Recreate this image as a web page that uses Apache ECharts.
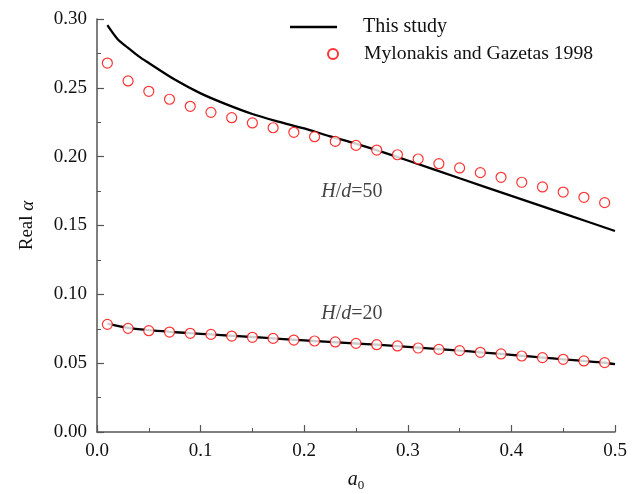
<!DOCTYPE html>
<html>
<head>
<meta charset="utf-8">
<script src="https://cdn.jsdelivr.net/npm/echarts@6/dist/echarts.min.js"></script>
<style>
html,body{margin:0;padding:0;background:#fff;}
#chart{width:634px;height:494px;}
</style>
</head>
<body>
<div id="chart"></div>
<script>
// Mylonakis and Gazetas 1998 points
const xMyl = [0.01,0.03,0.05,0.07,0.09,0.11,0.13,0.15,0.17,0.19,0.21,0.23,0.25,0.27,0.29,0.31,0.33,0.35,0.37,0.39,0.41,0.43,0.45,0.47,0.49];
const myl50 = [0.268,0.255,0.2475,0.2417,0.2366,0.2322,0.2283,0.2245,0.221,0.2177,0.2145,0.2111,0.2082,0.2048,0.2014,0.1983,0.1949,0.1918,0.1884,0.185,0.1814,0.178,0.1743,0.1705,0.1666];
const myl20 = [0.0782,0.0753,0.0736,0.0726,0.0717,0.0709,0.0697,0.0688,0.0680,0.0668,0.0661,0.0654,0.0644,0.0634,0.0625,0.0610,0.0600,0.0591,0.0579,0.0567,0.0552,0.0540,0.0528,0.0516,0.0504];
// This study
const xStudy50 = [0.01,0.02,0.03,0.04,0.05,0.075,0.1,0.125,0.15,0.175,0.2,0.225,0.25,0.275,0.3,0.35,0.4,0.45,0.5];
const study50 = [0.2955,0.2853,0.279,0.273,0.268,0.256,0.246,0.238,0.231,0.2255,0.2205,0.2148,0.2095,0.2035,0.1972,0.1843,0.1715,0.1588,0.146];
const xStudy20 = [0.01,0.03,0.05,0.07,0.09,0.11,0.13,0.15,0.17,0.19,0.21,0.23,0.25,0.27,0.29,0.31,0.33,0.35,0.37,0.39,0.41,0.43,0.45,0.47,0.49,0.5];
const study20 = [0.0788,0.0757,0.0740,0.0728,0.0718,0.0709,0.0699,0.0690,0.0680,0.0670,0.0661,0.0652,0.0643,0.0634,0.0624,0.0613,0.0602,0.0591,0.0579,0.0567,0.0554,0.0541,0.0528,0.0516,0.0503,0.0493];
// annotations
const labels = [
  {x:0.246, y:0.1745, text:'50'},
  {x:0.246, y:0.0862, text:'20'}
];
const xTicks = {min:0, max:0.5, interval:0.1};
const yTicks = {min:0, max:0.3, interval:0.05};

const FONT = '"Liberation Serif", "Times New Roman", serif';
const zip = (xs, ys) => xs.map((x, i) => [x, ys[i]]);

const chart = echarts.init(document.getElementById('chart'), null, {renderer:'canvas'});
const axisCommon = {
  axisLine:{show:true, onZero:false, lineStyle:{color:'#555', width:1.5}},
  axisTick:{show:true, inside:true, length:7, lineStyle:{color:'#555', width:1.2}},
  minorTick:{show:true, splitNumber:2, length:4, lineStyle:{color:'#555', width:1}},
  splitLine:{show:false},
  nameTextStyle:{fontFamily:FONT, color:'#111', fontSize:19}
};
chart.setOption({
  animation:false,
  backgroundColor:'#fff',
  grid:{left:97, right:19, top:19, bottom:62, containLabel:false, outerBoundsMode:'none'},
  legend:[
    {data:[{name:'This study', icon:'rect'}], orient:'vertical', left:290, top:17, padding:0, itemWidth:47, itemHeight:2.5,
     itemStyle:{color:'#000'},
     textStyle:{fontFamily:FONT, fontSize:20, color:'#111', padding:[0,0,0,21]}, selectedMode:false},
    {data:['Mylonakis and Gazetas 1998'], orient:'vertical', left:327, top:44, padding:0, itemWidth:10, itemHeight:18,
     textStyle:{fontFamily:FONT, fontSize:19.7, color:'#111', padding:[0,0,0,21]}, selectedMode:false}
  ],
  xAxis:Object.assign({}, axisCommon, {
    type:'value', min:xTicks.min, max:xTicks.max, interval:xTicks.interval,
    axisLabel:{fontFamily:FONT, fontSize:19, color:'#111', margin:10, formatter:v=>v.toFixed(1)},
    name:'{i|a}{s|0}', nameLocation:'middle', nameGap:35,
    nameTextStyle:{fontFamily:FONT, color:'#111', fontSize:19,
      rich:{i:{fontFamily:FONT, fontStyle:'italic', fontSize:20, color:'#111'},
            s:{fontFamily:FONT, fontSize:13, color:'#111', padding:[12,0,0,0]}}}
  }),
  yAxis:Object.assign({}, axisCommon, {
    type:'value', min:yTicks.min, max:yTicks.max, interval:yTicks.interval,
    axisLabel:{fontFamily:FONT, fontSize:19, color:'#111', margin:10, formatter:v=>v.toFixed(2)},
    name:'Real {i|α}', nameLocation:'middle', nameGap:60,
    nameTextStyle:{fontFamily:FONT, color:'#111', fontSize:19,
      rich:{i:{fontFamily:FONT, fontStyle:'italic', fontSize:19, color:'#111'}}}
  }),
  series:[
    {name:'This study', type:'line', data:zip(xStudy50, study50), showSymbol:false, symbol:'none', smooth:0.3,
     lineStyle:{color:'#000', width:2.3}, itemStyle:{color:'#000'}, z:2},
    {name:'This study', type:'line', data:zip(xStudy20, study20), showSymbol:false, symbol:'none', smooth:0.3,
     lineStyle:{color:'#000', width:2.3}, itemStyle:{color:'#000'}, z:2},
    {name:'Mylonakis and Gazetas 1998', type:'scatter', data:zip(xMyl, myl50), symbol:'circle', symbolSize:10,
     itemStyle:{color:'#fff', borderColor:'#ff0000', borderWidth:1.2}, z:5},
    {name:'Mylonakis and Gazetas 1998', type:'scatter', data:zip(xMyl, myl20), symbol:'circle', symbolSize:10,
     itemStyle:{color:'#fff', borderColor:'#ff0000', borderWidth:1.2}, z:5},
    {name:'labels', type:'scatter', data:labels.map(l=>({value:[l.x,l.y], text:l.text})), symbolSize:0, silent:true,
     label:{show:true, position:'inside', formatter:p=>'{i|H}/{i|d}=' + p.data.text,
       fontFamily:FONT, fontSize:20, color:'#111',
       rich:{i:{fontFamily:FONT, fontStyle:'italic', fontSize:20, color:'#111'}}}, z:6}
  ]
});
</script>
</body>
</html>
